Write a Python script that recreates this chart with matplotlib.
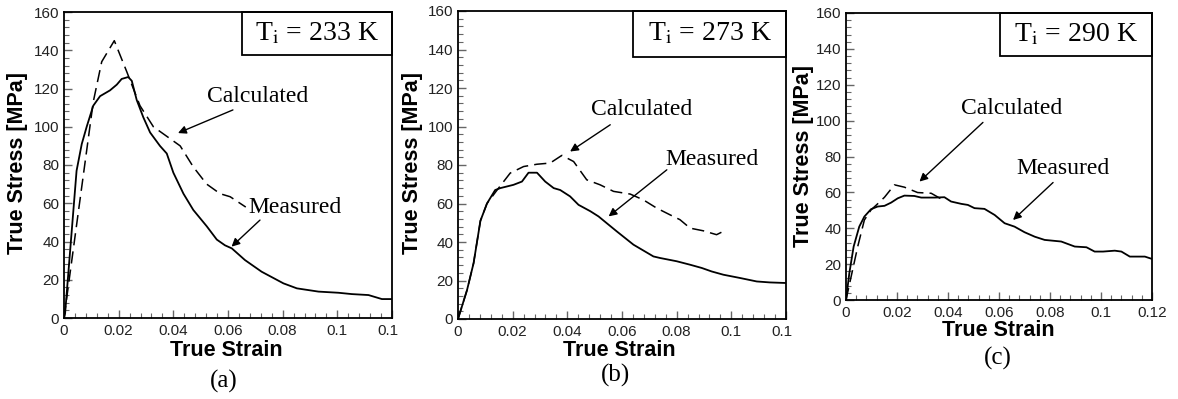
import matplotlib
matplotlib.use("Agg")
import matplotlib.pyplot as plt
from matplotlib.patches import Rectangle
from matplotlib.transforms import Bbox

plt.rcParams["font.family"] = ["Liberation Sans", "DejaVu Sans"]
plt.rcParams["mathtext.fontset"] = "stix"

# --- data (strain, stress in MPa) ---
# (a) Ti = 233 K
meas_a_x = [0, 0.0004, 0.0046, 0.0065, 0.0083, 0.0107, 0.0132, 0.0168, 0.0193, 0.0211,
            0.0235, 0.0248, 0.0266, 0.029, 0.0315, 0.0351, 0.0376, 0.040, 0.0437,
            0.0473, 0.0522, 0.0559, 0.0589, 0.0614, 0.0662, 0.0723, 0.0803, 0.0852,
            0.0931, 0.1004, 0.1053, 0.1114, 0.1163, 0.12]
meas_a_y = [0, 2.4, 77, 91, 100, 111, 116, 119, 122, 125,
            126, 124, 114, 105, 97, 90, 86, 76, 65,
            56.5, 48, 41, 38, 36.4, 30.3, 24.2, 18.1, 15.5,
            13.8, 13.2, 12.5, 12.0, 9.9, 9.9]
calc_a_x = [0, 0.0107, 0.0138, 0.0184, 0.0229, 0.0278, 0.0327, 0.0376, 0.0425, 0.0473,
            0.0522, 0.0571, 0.0608, 0.0665]
calc_a_y = [0, 113, 134, 145, 129, 111, 100, 95, 90, 79,
            70, 65, 63.4, 58]

# (b) Ti = 273 K
meas_b_x = [0, 0.0033, 0.0057, 0.0082, 0.0106, 0.0136, 0.0155, 0.0203, 0.0234, 0.0258,
            0.0289, 0.0319, 0.035, 0.0374, 0.041, 0.0441, 0.0484, 0.0514, 0.0544,
            0.0581, 0.0642, 0.0715, 0.0739, 0.08, 0.0849, 0.0892, 0.0928, 0.0971,
            0.1032, 0.1093, 0.1141, 0.12]
meas_b_y = [0, 15, 29, 51, 60, 67, 68, 69.7, 71.4, 76,
            76, 71.4, 68, 67, 63.7, 59.3, 56, 53.3, 49.8,
            45.5, 38.6, 32.5, 31.7, 30, 28.2, 26.5, 24.7, 23,
            21.3, 19.5, 19, 18.7]
calc_b_x = [0, 0.0033, 0.0057, 0.0082, 0.0106, 0.0143, 0.0191, 0.024, 0.0289, 0.0337,
            0.038, 0.0423, 0.0471, 0.052, 0.0569, 0.063, 0.0678, 0.0727, 0.0776,
            0.0812, 0.0849, 0.0898, 0.0946, 0.0983]
calc_b_y = [0, 15, 29, 51, 60, 67, 75.8, 79.2, 80.4, 81,
            85, 81.8, 72.3, 69.7, 66.3, 64.9, 61.9, 57.6, 54.1,
            51.6, 47.2, 45.8, 43.8, 46.4]

# (c) Ti = 290 K
meas_c_x = [0, 0.0013, 0.003, 0.0052, 0.0072, 0.0098, 0.0124, 0.0151, 0.0177, 0.0203,
            0.0229, 0.0268, 0.0295, 0.0347, 0.0386, 0.0412, 0.0452, 0.0478, 0.0504,
            0.0543, 0.0583, 0.0622, 0.0661, 0.07, 0.074, 0.0779, 0.0844, 0.0897,
            0.0943, 0.0975, 0.1008, 0.1054, 0.108, 0.1113, 0.1145, 0.1172, 0.12]
meas_c_y = [0, 14.9, 29.8, 40.9, 46.5, 50.6, 52.1, 52.5, 54.3, 56.7,
            58.2, 58, 57.1, 57.1, 57.3, 54.9, 53.6, 53, 51.2,
            50.8, 47.4, 42.8, 40.9, 37.8, 35.3, 33.5, 32.6, 29.8,
            29.4, 27, 27, 27.5, 27, 24.2, 24.2, 24.2, 22.9]
calc_c_x = [0, 0.0046, 0.0072, 0.0098, 0.0124, 0.0151, 0.019, 0.0229, 0.0281, 0.0334, 0.038]
calc_c_y = [0, 29.8, 44.6, 50.2, 53.6, 57.3, 64.2, 62.9, 59.9, 59.5, 55.8]

temps = ["233", "273", "290"]
tags = ["(a)", "(b)", "(c)"]

W, H = 1178, 399
fig = plt.figure(figsize=(W / 100, H / 100), dpi=100)


def px_axes(left, top, right, bottom):
    return fig.add_axes([left / W, 1 - bottom / H, (right - left) / W, (bottom - top) / H])


def panel(ax, mx, my, cx, cy, temp, calc_txt, calc_tail, calc_head,
          meas_txt, meas_tail, meas_head, box_w, box_h):
    ax.plot(mx, my, color="black", lw=1.3)
    ax.plot(cx, cy, color="black", lw=1.1, dashes=(8, 4))
    ax.set_xlim(0, 0.12)
    ax.set_ylim(0, 160)
    ax.set_xticks([0, 0.02, 0.04, 0.06, 0.08, 0.1, 0.12])
    ax.set_xticklabels(["0", "0.02", "0.04", "0.06", "0.08", "0.1", "0.12"])
    ax.set_yticks(range(0, 161, 20))
    ax.set_xticks([i * 0.004 for i in range(31)], minor=True)
    ax.set_yticks(range(0, 161, 4), minor=True)
    ax.tick_params(which="both", direction="in", labelsize=11, colors="#666666",
                   labelcolor="#222222")
    ax.tick_params(which="major", length=6, width=1)
    ax.tick_params(which="minor", length=3.5, width=0.8)
    ax.tick_params(axis="x", pad=4)
    for s in ax.spines.values():
        s.set_linewidth(1.3)

    ax.add_patch(Rectangle((1 - box_w, 1 - box_h), box_w, box_h, transform=ax.transAxes,
                           fill=False, lw=1.3, ec="black", clip_on=False, zorder=5))
    ax.text(1 - box_w / 2, 1 - box_h / 2, "T$_\\mathrm{i}$ = " + temp + " K",
            transform=ax.transAxes, ha="center", va="center", fontsize=20,
            family="Liberation Serif")

    arrow = dict(arrowstyle="-|>", color="black", lw=1.0, mutation_scale=12,
                 shrinkA=0, shrinkB=0)
    ax.text(calc_txt[0], calc_txt[1], "Calculated", ha="center", va="center",
            fontsize=17, family="Liberation Serif")
    ax.annotate("", xy=calc_head, xytext=calc_tail, arrowprops=arrow)
    ax.text(meas_txt[0], meas_txt[1], "Measured", ha="center", va="center",
            fontsize=17, family="Liberation Serif",
            bbox=dict(fc="white", ec="none", pad=1))
    ax.annotate("", xy=meas_head, xytext=meas_tail, arrowprops=arrow)


ax_a = px_axes(64, 12, 392, 318)
panel(ax_a, meas_a_x, meas_a_y, calc_a_x, calc_a_y, temps[0],
      (0.071, 115.6), (0.0618, 108.8), (0.0417, 96.7),
      (0.0845, 58), (0.0717, 51.2), (0.0613, 37.3), 150 / 328, 43 / 306)

ax_b = px_axes(458, 11, 786, 319)
panel(ax_b, meas_b_x, meas_b_y, calc_b_x, calc_b_y, temps[1],
      (0.0672, 108.6), (0.0557, 100.9), (0.041, 87),
      (0.0928, 83), (0.0764, 77.5), (0.0551, 53.3), 0.465, 0.148)

ax_c = px_axes(846, 13, 1152, 300)
panel(ax_c, meas_c_x, meas_c_y, calc_c_x, calc_c_y, temps[2],
      (0.0648, 107), (0.0537, 99), (0.0288, 66),
      (0.0851, 73.5), (0.0812, 65.5), (0.0655, 44.6), 0.498, 0.151)

# axis titles and panel tags, placed by pixel centre
lab = dict(ha="center", va="center", fontsize=15.5, fontweight="bold")
for (xx, yy), (ylx, yly), (tx, ty), tag in zip(
        [(226, 350), (619, 350), (998, 330)],
        [(18, 163), (412, 163), (803, 156)],
        [(224, 381), (615, 375), (998, 358)], tags):
    fig.text(xx / W, 1 - yy / H, "True Strain", **lab)
    fig.text(ylx / W, 1 - yly / H, "True Stress [MPa]", rotation=90, **lab)
    fig.text(tx / W, 1 - ty / H, tag, ha="center", va="center", fontsize=18,
             family="Liberation Serif")

# the first two panels have their last x label cut off, as in the reference
for ax, edge in [(ax_a, 398), (ax_b, 792)]:
    for lbl in ax.get_xticklabels():
        lbl.set_clip_box(Bbox.from_extents(0, 0, edge, H))
        lbl.set_clip_on(True)

fig.savefig("out.png", dpi=100, facecolor="white")
